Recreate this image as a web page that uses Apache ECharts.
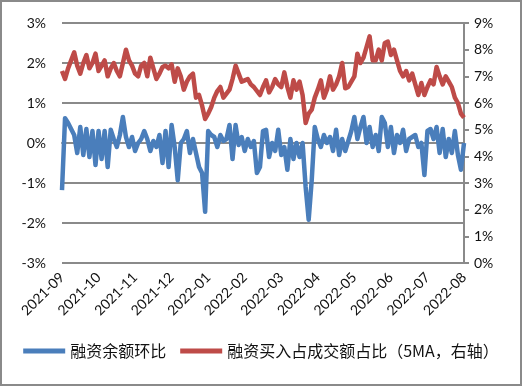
<!DOCTYPE html>
<html>
<head>
<meta charset="utf-8">
<script src="https://cdn.jsdelivr.net/npm/echarts@6/dist/echarts.min.js"></script>
<style>
html,body{margin:0;padding:0;background:#fff;}
#c{width:522px;height:386px;}
</style>
</head>
<body>
<div id="c"></div>
<script>
// month tick labels (one every 12 points)
var monthLabels = ['2021-09','2021-10','2021-11','2021-12','2022-01','2022-02','2022-03','2022-04','2022-05','2022-06','2022-07','2022-08'];
var pointsPerMonth = 12;
var seriesNames = ['融资余额环比', '融资买入占成交额占比（5MA，右轴）'];
var leftTicks = [-3, 3, 1];
var rightTicks = [0, 9, 1];

// 融资余额环比 (%), left axis
var balanceChange = [
-1.18,0.62,0.5,0.35,0.2,-0.25,0.4,-0.3,0.35,-0.35,
0.3,-0.55,0.3,-0.4,0.3,-0.6,0.33,0.1,-0.1,0.2,
0.65,0.15,-0.1,0.15,-0.2,0.0,0.1,0.3,0.1,-0.2,
0.05,-0.1,0.2,-0.5,0.3,-0.6,0.45,-0.1,-0.93,0.0,
0.1,0.3,-0.25,0.1,-0.25,-0.6,-0.75,-1.72,0.3,0.2,
0.15,-0.1,0.2,0.05,0.1,0.45,-0.4,0.45,-0.05,0.15,
-0.2,0.1,-0.1,0.05,-0.75,-0.6,0.3,0.33,-0.35,0.0,
-0.2,0.33,-0.3,-0.1,-0.67,0.1,-0.4,0.0,-0.35,0.0,
-1.1,-1.92,-0.93,0.4,0.1,-0.1,0.2,0.0,0.15,-0.2,
0.33,-0.3,0.1,-0.2,0.05,0.3,0.65,0.1,0.4,0.65,
0.0,0.4,-0.1,0.2,-0.2,0.65,0.5,-0.1,0.4,-0.25,
0.2,0.0,0.33,-0.2,0.1,0.15,0.2,-0.1,0.0,-0.8,
0.3,0.35,0.1,0.4,-0.25,0.35,-0.35,0.1,-0.25,0.3,
-0.3,-0.67,0.0
];

// 融资买入占成交额占比 5MA (%), right axis
var buyShare = [
7.2,6.9,7.3,7.6,7.9,7.4,7.1,7.5,7.8,7.3,
7.5,7.85,7.2,7.4,7.6,7.0,7.3,7.5,7.2,7.0,
7.5,8.0,7.6,7.4,7.1,7.0,7.4,7.5,7.0,7.7,
7.3,6.9,7.1,7.35,7.4,7.3,7.45,6.8,7.3,7.0,
6.5,6.8,7.0,7.1,6.2,6.3,5.9,5.4,5.6,5.85,
6.2,6.45,6.6,6.2,6.35,6.5,6.9,7.4,7.1,6.8,
6.85,6.9,6.7,6.6,6.45,6.3,6.6,6.85,6.4,6.6,
6.9,6.7,6.6,7.15,6.6,6.2,6.85,6.5,6.8,6.3,
5.25,5.6,5.75,6.2,6.5,6.85,6.2,6.5,7.0,6.5,
6.7,7.0,7.5,6.55,6.6,6.8,7.0,7.85,7.5,7.7,
8.1,8.5,7.6,7.6,8.0,7.6,8.25,8.3,7.8,8.0,
7.6,7.2,7.0,7.2,6.85,7.1,6.7,6.3,6.75,6.3,
6.6,6.85,6.7,7.35,7.0,6.7,7.0,6.8,6.6,6.2,
6.0,5.6,5.45
];

var cats = balanceChange.map(function(v, i){
  return (i % pointsPerMonth === 0) ? monthLabels[i / pointsPerMonth] : ('p' + i);
});

var axisFont = 'Lato, "Noto Sans", sans-serif';
var gridColor = '#8a8a8a';

var chart = echarts.init(document.getElementById('c'), null, {renderer: 'canvas'});
chart.setOption({
  animation: false,
  backgroundColor: '#fff',
  graphic: [{
    type: 'rect', silent: true, z: 100,
    shape: {x: 1, y: 1, width: 520, height: 384},
    style: {fill: 'none', stroke: '#8a8a8a', lineWidth: 2}
  }],
  grid: {left: 62, right: 58, top: 23, bottom: 123, containLabel: false},
  legend: {
    bottom: 22, left: 'center',
    icon: 'rect', itemWidth: 42, itemHeight: 5, itemGap: 14,
    textStyle: {fontSize: 16, color: '#111', fontFamily: '"Noto Sans CJK SC", sans-serif'},
    data: seriesNames
  },
  xAxis: {
    type: 'category', boundaryGap: false, data: cats,
    axisLine: {show: true, lineStyle: {color: gridColor, width: 2}},
    axisTick: {show: false},
    axisLabel: {
      interval: function(i){ return i % pointsPerMonth === 0; },
      formatter: function(v){ return v.charAt(0) === 'p' ? '' : v; },
      rotate: 45, margin: 12, fontSize: 14, color: '#111', fontFamily: axisFont
    },
    splitLine: {show: false}
  },
  yAxis: [{
    type: 'value', min: leftTicks[0], max: leftTicks[1], interval: leftTicks[2], position: 'left',
    axisLine: {show: false}, axisTick: {show: false},
    axisLabel: {formatter: '{value}%', fontSize: 14, color: '#111', margin: 16, fontFamily: axisFont},
    splitLine: {show: true, lineStyle: {color: gridColor, width: 2}}
  }, {
    type: 'value', min: rightTicks[0], max: rightTicks[1], interval: rightTicks[2], position: 'right',
    axisLine: {show: true, lineStyle: {color: gridColor, width: 2}},
    axisTick: {show: true, length: 5, lineStyle: {color: gridColor, width: 2}},
    axisLabel: {formatter: '{value}%', fontSize: 14, color: '#111', margin: 10, fontFamily: axisFont},
    splitLine: {show: false}
  }],
  series: [{
    name: seriesNames[0], type: 'line', yAxisIndex: 0, data: balanceChange,
    showSymbol: false, symbol: 'none',
    lineStyle: {color: '#4a7ebb', width: 4.5, join: 'round'},
    itemStyle: {color: '#4a7ebb'}, z: 2
  }, {
    name: seriesNames[1], type: 'line', yAxisIndex: 1, data: buyShare,
    showSymbol: false, symbol: 'none',
    lineStyle: {color: '#be4b48', width: 4.5, join: 'round'},
    itemStyle: {color: '#be4b48'}, z: 3
  }]
});
</script>
</body>
</html>
